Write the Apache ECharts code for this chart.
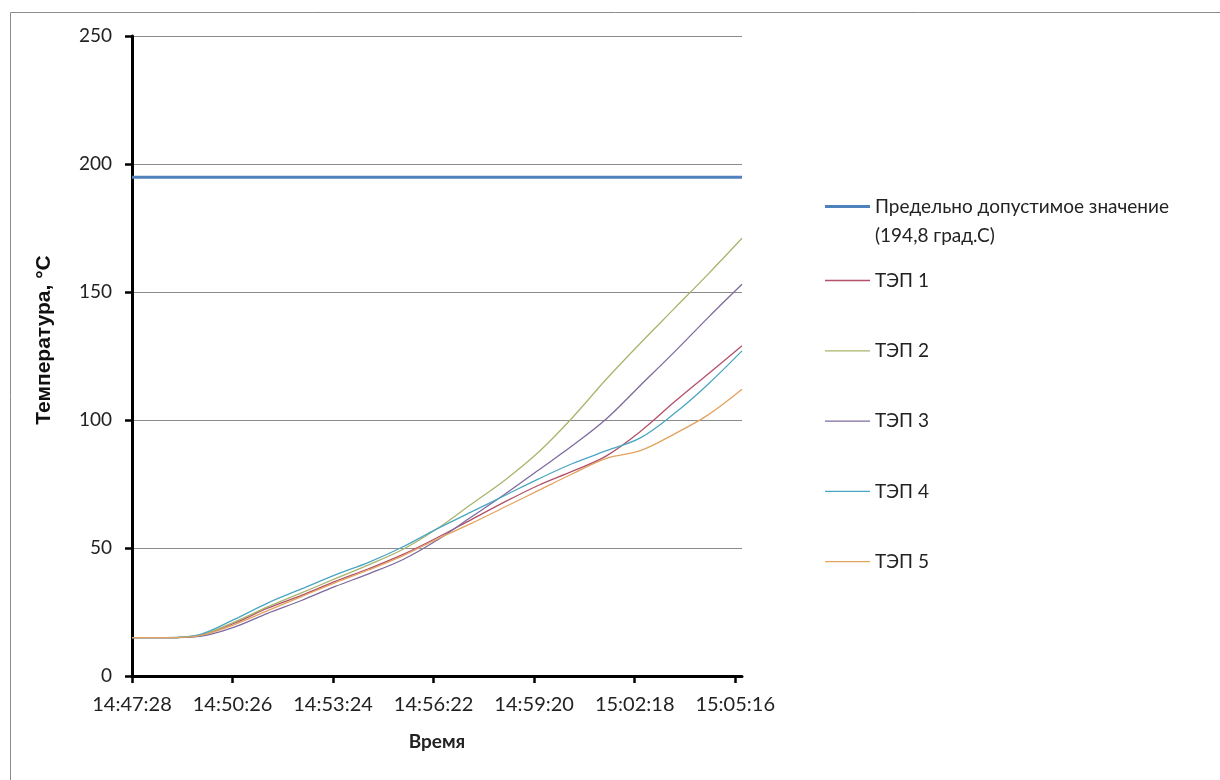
<!DOCTYPE html>
<html>
<head>
<meta charset="utf-8">
<script src="https://cdn.jsdelivr.net/npm/echarts@6/dist/echarts.min.js"></script>
<style>
html,body{margin:0;padding:0;background:#fff;}
#chart{width:1220px;height:780px;}
</style>
</head>
<body>
<div id="chart"></div>
<script>
// ---- data ----
const times = ['14:47:28','14:48:28','14:49:28','14:50:28','14:51:28','14:52:28','14:53:28','14:54:28','14:55:28','14:56:28',
               '14:57:28','14:58:28','14:59:28','15:00:28','15:01:28','15:02:28','15:03:28','15:04:28','15:05:28'];
const tickLabels = ['14:47:28','14:50:26','14:53:24','14:56:22','14:59:20','15:02:18','15:05:16'];
const limitName = 'Предельно допустимое значение (194,8 град.С)';
const limitValue = 194.8;
const seriesNames = ['ТЭП 1','ТЭП 2','ТЭП 3','ТЭП 4','ТЭП 5'];
const tep1 = [15,15,15.8,20.5,26.5,31.5,37,42,47.5,54,61,68,74.5,80,86,95.5,107,118,129];
const tep2 = [15,15,16,21,27,32.5,38,43.5,49.5,57.5,67,76.5,87.5,101,116,130,143.5,157,171];
const tep3 = [15,15,15.5,19,24.5,29.5,35,40,45.5,53,62,71,80.5,90,100.5,113.5,126.5,140,153];
const tep4 = [15,15,16.2,22,28.5,34,39.5,44.5,50.5,57.5,64,70.5,77,83,88,93,102.5,114,127];
const tep5 = [15,15,15.8,20,25.5,31,36.5,41.5,47,53.5,59.5,66,72.5,79,85,88,94.5,102,112];
const yTicks = [0,50,100,150,200,250];

// ---- helpers ----
function toSec(s){const p=s.split(':').map(Number);return p[0]*3600+p[1]*60+p[2];}
const t0 = toSec(times[0]);
const xs = times.map(s => toSec(s) - t0);
const tickSecs = tickLabels.map(s => toSec(s) - t0);
const xMax = xs[xs.length-1];
const pairs = arr => arr.map((v,i) => [xs[i], v]);

const colors = ['#4F81BD','#B2506A','#A9B46C','#7E6A9E','#4AA6C2','#E3A25E'];
const font = 'Lato, "Open Sans", sans-serif';
const thickIcon = 'path://M0,0 L45,0 L45,3 L0,3 Z';
const thinIcon = 'path://M0,0 L45,0 L45,1.3 L0,1.3 Z';

const teps = [tep1,tep2,tep3,tep4,tep5];
const series = [{
  name: limitName, type: 'line', symbol: 'none',
  data: [[0, limitValue],[xMax, limitValue]],
  lineStyle: {width: 3, color: colors[0]}, itemStyle:{color: colors[0]}
}].concat(teps.map((arr,i) => ({
  name: seriesNames[i], type: 'line', symbol: 'none', smooth: 0.35,
  data: pairs(arr),
  lineStyle: {width: 1.3, color: colors[i+1]}, itemStyle:{color: colors[i+1]}
})));

const chart = echarts.init(document.getElementById('chart'), null, {renderer:'canvas'});
chart.setOption({
  animation: false,
  backgroundColor: '#fff',
  grid: {left: 132, right: 478, top: 36, bottom: 104},
  graphic: [{type:'rect', shape:{x:10.5,y:12.5,width:1260,height:820}, style:{fill:'none', stroke:'#8c8c8c', lineWidth:1}, silent:true, z:-10}],
  legend: [{
    data: [{name: limitName, icon: thickIcon}], orient:'vertical', left: 820, top: 158,
    itemWidth: 45, itemHeight: 14, itemGap: 0, symbolKeepAspect: true,
    formatter: () => ' \nПредельно допустимое значение\n(194,8 град.С)',
    textStyle: {fontFamily: font, fontSize: 19, color:'#222', lineHeight: 29}
  },{
    data: seriesNames.map(n => ({name: n, icon: thinIcon})), orient:'vertical', left: 820, top: 266,
    itemWidth: 45, itemHeight: 14, itemGap: 51.3, symbolKeepAspect: true,
    textStyle: {fontFamily: font, fontSize: 19, color:'#222', lineHeight: 14}
  }],
  xAxis: {
    type: 'value', min: 0, max: xMax,
    name: 'Время', nameLocation: 'middle', nameGap: 56,
    nameTextStyle: {fontFamily: font, fontSize: 19, fontWeight:'bold', color:'#222'},
    axisLine: {show:true, lineStyle:{color:'#000', width:3}},
    axisTick: {show:true, customValues: tickSecs, length: 7, lineStyle:{color:'#000', width:2.5}},
    axisLabel: {customValues: tickSecs, margin: 19, fontFamily: font, fontSize: 20, color:'#222',
      formatter: v => tickLabels[tickSecs.indexOf(v)] || ''},
    splitLine: {show:false}
  },
  yAxis: {
    type: 'value', min: yTicks[0], max: yTicks[yTicks.length-1], interval: 50,
    name: 'Температура, °C', nameLocation: 'middle', nameGap: 77,
    nameTextStyle: {fontFamily: '"Liberation Sans", Arial, sans-serif', fontSize: 21, fontWeight:'bold', color:'#111', padding:[0,0,0,32]},
    axisLine: {show:true, lineStyle:{color:'#000', width:3}},
    axisTick: {show:true, length: 7, lineStyle:{color:'#000', width:2.5}},
    axisLabel: {margin: 20, fontFamily: font, fontSize: 19, color:'#222'},
    splitLine: {show:true, lineStyle:{color:'#8a8a8a', width:1}}
  },
  series: series
});
</script>
</body>
</html>
